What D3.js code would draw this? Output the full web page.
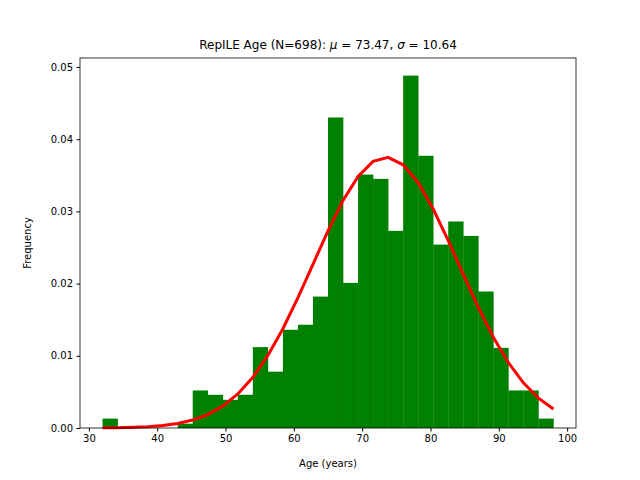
<!DOCTYPE html>
<html><head><meta charset="utf-8">
<script src="https://cdn.jsdelivr.net/npm/d3@7"></script>
<style>body{margin:0;background:#fff}text{font-family:"DejaVu Sans",sans-serif}</style>
</head><body><svg id="c" width="640" height="480"></svg>
<script>
const binEdges=[32,34.2,36.4,38.6,40.8,43,45.2,47.4,49.6,51.8,54,56.2,58.4,60.6,62.8,65,67.2,69.4,71.6,73.8,76,78.2,80.4,82.6,84.8,87,89.2,91.4,93.6,95.8,98];
const freq=[0.0013,0,0,0,0,0.0006,0.0052,0.0046,0.0039,0.0046,0.0112,0.0078,0.0136,0.0143,0.0182,0.0430,0.0201,0.0351,0.0345,0.0273,0.0488,0.0377,0.0254,0.0286,0.0266,0.0189,0.0111,0.0052,0.0052,0.0013];
const fitPdf=[0.0000188,0.0000413,0.0000867,0.000174,0.000336,0.000621,0.00110,0.00186,0.00303,0.00471,0.00703,0.01005,0.01375,0.01804,0.02267,0.02731,0.03152,0.03485,0.03692,0.03748,0.03645,0.03397,0.03033,0.02595,0.02127,0.0167,0.01257,0.00906,0.00626,0.00414,0.00263];
const xTicks=[30,40,50,60,70,80,90,100];
const yTicks=[0,0.01,0.02,0.03,0.04,0.05];
const svg=d3.select("#c");
const L=80,R=576,T=58,B=428;
const x=d3.scaleLinear().domain([28.7,101.3]).range([L,R]);
const y=d3.scaleLinear().domain([0,0.05124]).range([B,T]);
const g=svg.append("g");
g.selectAll("rect").data(freq).join("rect")
 .attr("x",(d,i)=>x(binEdges[i])).attr("width",(d,i)=>x(binEdges[i+1])-x(binEdges[i])+0.3)
 .attr("y",d=>y(d)).attr("height",d=>B-y(d)).attr("fill","#008000");
svg.append("path").datum(fitPdf).attr("fill","none").attr("stroke","#ff0000").attr("stroke-width",3)
 .attr("d",d3.line().x((d,i)=>x(binEdges[i])).y(d=>y(d)));
const ax=svg.append("g").attr("transform",`translate(0,${B})`).call(d3.axisBottom(x).tickValues(xTicks).tickSize(3.5).tickPadding(3.5));
const ay=svg.append("g").attr("transform",`translate(${L},0)`).call(d3.axisLeft(y).tickValues(yTicks).tickFormat(d3.format(".2f")).tickSize(3.5).tickPadding(3.5));
[ax,ay].forEach(a=>{a.selectAll("text").attr("font-size",10).attr("fill","#000");a.select(".domain").remove();});
svg.append("rect").attr("x",L).attr("y",T).attr("width",R-L).attr("height",B-T).attr("fill","none").attr("stroke","#000").attr("stroke-width",0.8);
svg.append("text").attr("x",(L+R)/2).attr("y",467).attr("text-anchor","middle").attr("font-size",10).text("Age (years)");
svg.append("text").attr("transform",`translate(31,${(T+B)/2}) rotate(-90)`).attr("text-anchor","middle").attr("font-size",10).text("Frequency");
const t=svg.append("text").attr("x",(L+R)/2).attr("y",49).attr("text-anchor","middle").attr("font-size",12);
t.append("tspan").text("RepILE Age (N=698): ");
t.append("tspan").attr("font-style","italic").text("μ");
t.append("tspan").text(" = 73.47,  ");
t.append("tspan").attr("font-style","italic").text("σ");
t.append("tspan").text(" = 10.64");
</script></body></html>
